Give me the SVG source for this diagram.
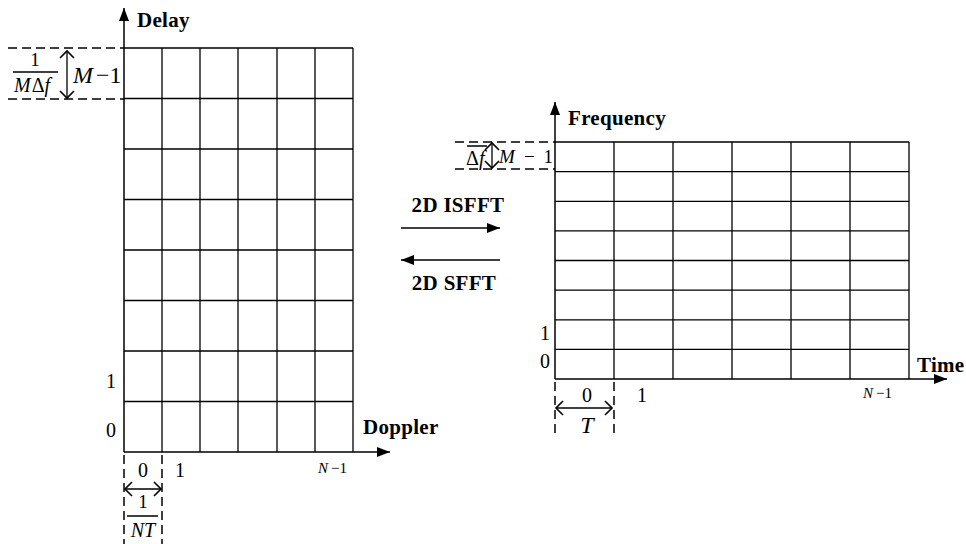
<svg xmlns="http://www.w3.org/2000/svg" width="966" height="544" viewBox="0 0 966 544">
<defs>
<marker id="ah" markerUnits="userSpaceOnUse" markerWidth="13" markerHeight="10" refX="13" refY="5" orient="auto"><path d="M0,0 L13,5 L0,10 z" fill="#000"/></marker>
<marker id="oh" markerUnits="userSpaceOnUse" markerWidth="10" markerHeight="16" refX="1" refY="8" orient="auto-start-reverse" overflow="visible"><path d="M-6,1 L1,8 L-6,15" fill="none" stroke="#000" stroke-width="1.6"/></marker>
<style>
.g{stroke:#000;stroke-width:1.3;fill:none}
.ax{stroke:#000;stroke-width:1.5;fill:none}
.d{stroke:#000;stroke-width:1.5;stroke-dasharray:9,5;fill:none}
.t{font-family:"Liberation Serif","Times New Roman",serif;fill:#000}
.b{font-weight:bold;font-size:21px;letter-spacing:0.3px}
.n{font-size:20px}
.i{font-style:italic}
</style>
</defs>
<g id="dd-grid">
<path class="g" d="M124,48H353M124,98.5H353M124,149H353M124,199.5H353M124,250H353M124,300.5H353M124,351H353M124,401.5H353M162,48V452M200,48V452M238,48V452M277,48V452M315,48V452M353,48V452"/>
</g>
<g id="tf-grid">
<path class="g" d="M555,142H909M555,171.6H909M555,201.3H909M555,230.9H909M555,260.5H909M555,290.1H909M555,319.8H909M555,349.4H909M614,142V379M673,142V379M732,142V379M791,142V379M850,142V379M909,142V379"/>
</g>
<g id="connectors">
<path class="ax" d="M124,452V8" marker-end="url(#ah)"/>
<path class="ax" d="M124,452H390" marker-end="url(#ah)"/>
<path class="ax" d="M555,379V102" marker-end="url(#ah)"/>
<path class="ax" d="M555,379H947" marker-end="url(#ah)"/>
<path class="ax" d="M401,228H500" marker-end="url(#ah)"/>
<path class="ax" d="M500,260H401" marker-end="url(#ah)"/>
<path class="d" d="M8,48H124M8,99H124"/>
<path class="d" d="M124,455V544M162,455V544"/>
<path class="d" d="M455,142H555M455,169H555"/>
<path class="d" d="M555,382V438M614,382V438"/>
<path class="g" d="M67,51V98" marker-start="url(#oh)" marker-end="url(#oh)"/>
<path class="g" d="M125,489H161" marker-start="url(#oh)" marker-end="url(#oh)"/>
<path class="g" d="M492,143V168" marker-start="url(#oh)" marker-end="url(#oh)"/>
<path class="g" d="M556,408H612" marker-start="url(#oh)" marker-end="url(#oh)"/>
<path class="g" d="M13,72H58M127,516H158M467,146H487"/>
</g>
<g id="labels">
<text class="t b" x="137" y="27">Delay</text>
<text class="t b" x="363" y="434">Doppler</text>
<text class="t b" x="568" y="125">Frequency</text>
<text class="t b" x="917" y="372">Time</text>
<text class="t b" x="458" y="212" text-anchor="middle">2D ISFFT</text>
<text class="t b" x="454" y="290" text-anchor="middle">2D SFFT</text>
<text class="t" font-size="19" x="35" y="66" text-anchor="middle">1</text>
<text class="t n" x="14" y="92"><tspan class="i">M</tspan><tspan dx="1">Δ</tspan><tspan class="i">f</tspan></text>
<text class="t" font-size="24" x="73" y="83"><tspan class="i">M</tspan><tspan dx="3">−1</tspan></text>
<text class="t n" x="111" y="388" text-anchor="middle">1</text>
<text class="t n" x="111" y="437" text-anchor="middle">0</text>
<text class="t n" x="143" y="477" text-anchor="middle">0</text>
<text class="t n" x="180" y="477" text-anchor="middle">1</text>
<text class="t" font-size="15" x="318" y="473"><tspan class="i">N</tspan><tspan dx="3">−1</tspan></text>
<text class="t" font-size="19" x="143" y="508" text-anchor="middle">1</text>
<text class="t n i" x="143" y="537" text-anchor="middle">NT</text>
<text class="t" font-size="20" x="466" y="165">Δ<tspan class="i">f</tspan></text>
<text class="t i" font-size="19" x="499" y="163">M</text>
<text class="t" font-size="19" x="524" y="163">−</text>
<text class="t" font-size="19" x="553" y="163" text-anchor="end">1</text>
<text class="t n" x="545" y="340" text-anchor="middle">1</text>
<text class="t n" x="545" y="368" text-anchor="middle">0</text>
<text class="t n" x="587" y="402" text-anchor="middle">0</text>
<text class="t n" x="642" y="402" text-anchor="middle">1</text>
<text class="t" font-size="15" x="863" y="398"><tspan class="i">N</tspan><tspan dx="3">−1</tspan></text>
<text class="t i" font-size="24" x="587" y="433" text-anchor="middle">T</text>
</g>
</svg>
